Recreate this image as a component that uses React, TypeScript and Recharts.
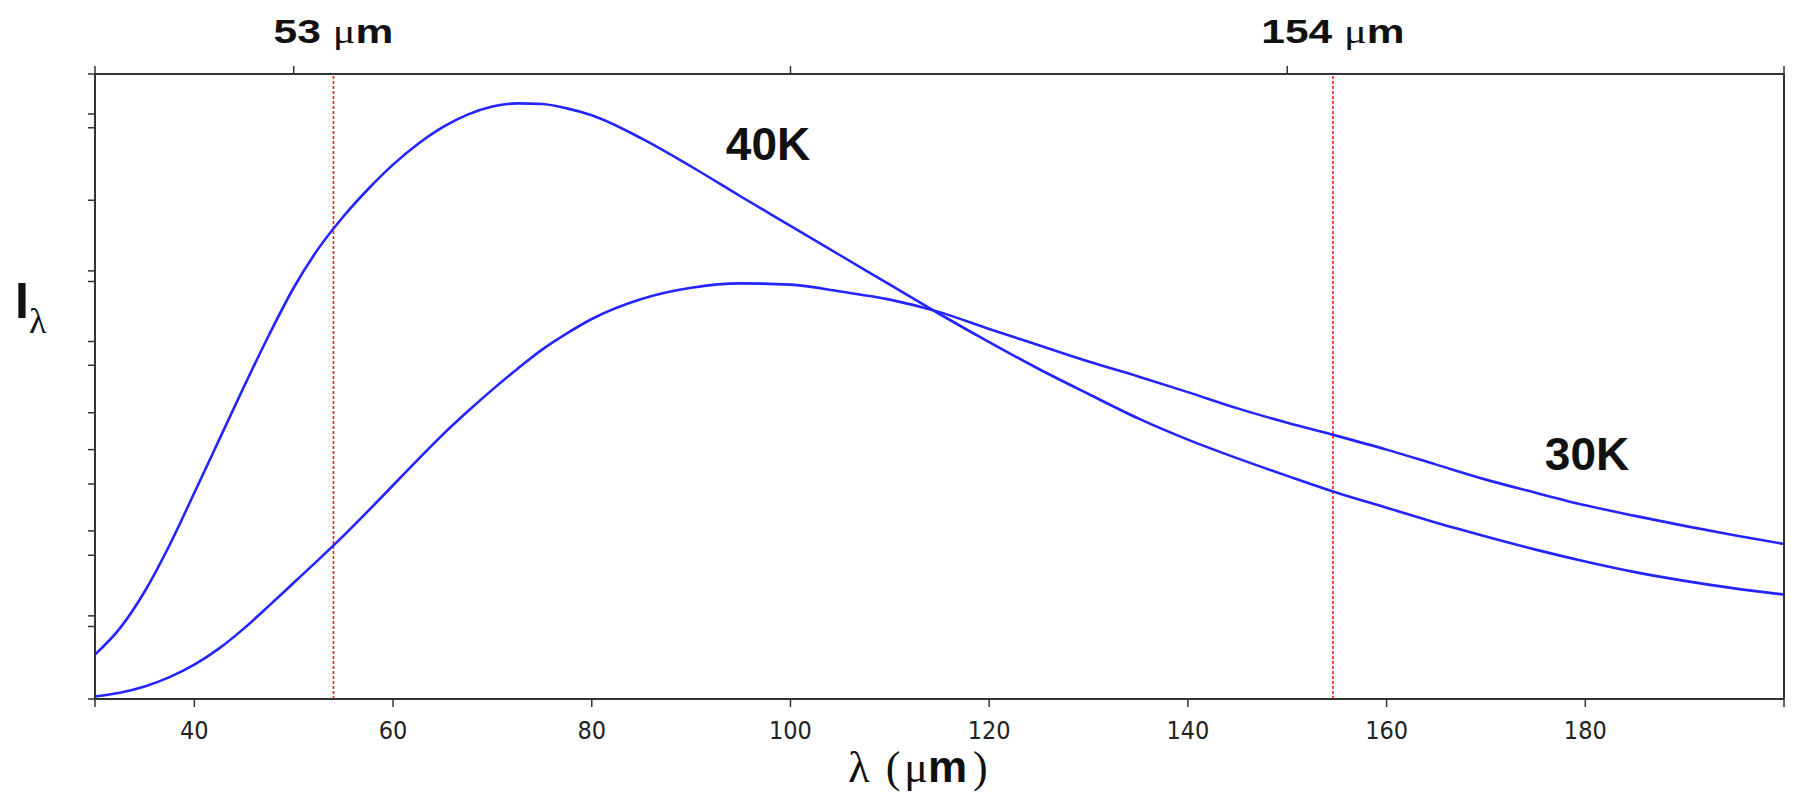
import { Customized, Line, LineChart, ReferenceLine, XAxis, YAxis } from "recharts"

// wavelength samples (μm) and intensities (arbitrary units, 0-100)
const lambda = [
  30, 32.5, 35, 37.5, 40, 42.5, 45, 47.5, 50, 52.5, 55, 57.5, 60, 62.5, 65, 67.5, 70, 72.5, 75, 77.5,
  80, 85, 90, 95, 100, 105, 110, 115, 120, 125, 130, 135, 140, 145, 150, 155, 160, 165, 170, 175,
  180, 185, 190, 195, 200,
]
const i40K = [
  7.1, 11.3, 17.2, 24.6, 33.0, 41.5, 50.0, 58.2, 65.8, 72.1, 77.2, 81.6, 85.5, 88.8, 91.5, 93.5, 94.8, 95.3, 95.2, 94.5,
  93.4, 89.7, 85.2, 80.4, 75.7, 71.0, 66.3, 61.6, 57.1, 52.8, 48.8, 44.9, 41.5, 38.5, 35.7, 33.0, 30.6, 28.2, 26.0, 23.9,
  22.0, 20.3, 18.9, 17.7, 16.7,
]
const i30K = [
  0.4, 1.0, 2.0, 3.5, 5.5, 8.1, 11.3, 14.9, 18.6, 22.3, 26.1, 30.1, 34.2, 38.3, 42.3, 46.0, 49.5, 52.8, 55.9, 58.5,
  60.8, 64.0, 65.8, 66.5, 66.3, 65.2, 63.9, 61.9, 59.2, 56.6, 54.0, 51.6, 49.1, 46.5, 44.2, 42.1, 39.9, 37.5, 35.1, 33.0,
  31.0, 29.3, 27.7, 26.2, 24.8,
]

const bottomTicks = [30, 40, 60, 80, 100, 120, 140, 160, 180, 200]
const topTicks = [30, 50, 100, 150, 200]
const sideTicks = [0, 11.6, 13.3, 23.0, 26.9, 34.4, 39.9, 45.8, 53.4, 57.2, 66.8, 68.5, 79.8, 91.4, 93.6, 100]

const markers = [54, 154.6]
const markerLabels = ["53", "154"]

const data = lambda.map((l, i) => ({ l, t40: i40K[i], t30: i30K[i] }))

const AXIS = "#333"
const BLUE = "#2424ff"
const SANS = "'Liberation Sans', Arial, sans-serif"
const SERIF = "'Liberation Serif', 'Times New Roman', serif"

const markerLabel = (text: string) => (props: any) => {
  const vb = props.viewBox || {}
  return (
    <text
      transform={`translate(${vb.x},${vb.y - 31}) scale(1.25,1)`}
      textAnchor="middle"
      fontFamily={SANS}
      fontWeight="bold"
      fontSize={34}
      fill="#111"
    >
      {text} <tspan fontFamily={SERIF} fontWeight="normal">μ</tspan>m
    </text>
  )
}

function Annotations() {
  return (
    <g>
      <text x={768} y={160} textAnchor="middle" fontFamily={SANS} fontWeight="bold" fontSize={46} fill="#111">40K</text>
      <text x={1587} y={470} textAnchor="middle" fontFamily={SANS} fontWeight="bold" fontSize={46} fill="#111">30K</text>
      <text x={15} y={318} fontFamily={SANS} fontWeight="bold" fontSize={50} fill="#111">I</text>
      <text x={29} y={333} fontFamily={SERIF} fontSize={36} fill="#111">λ</text>
      <text x={918} y={782} textAnchor="middle" fontFamily={SERIF} fontSize={44} fill="#111">
        λ<tspan dx={16}>(</tspan>
        <tspan dx={4}>μ</tspan>
        <tspan fontFamily={SANS} fontWeight="bold">m</tspan>
        <tspan dx={6}>)</tspan>
      </text>
    </g>
  )
}

export default function App() {
  const tickLine = { stroke: AXIS, strokeWidth: 1.5 }
  const axisLine = { stroke: AXIS, strokeWidth: 2 }
  return (
    <div style={{ position: "absolute", left: 0, top: 0, background: "#fff" }}>
      <LineChart width={1796} height={796} data={data} margin={{ top: 34, right: 0, bottom: 37, left: 35 }}>
        <XAxis
          xAxisId="b"
          dataKey="l"
          type="number"
          domain={[30, 200]}
          ticks={bottomTicks}
          orientation="bottom"
          height={60}
          tickSize={8}
          tickMargin={14}
          axisLine={axisLine}
          tickLine={tickLine}
          tick={{ fontSize: 25, fill: "#222", fontFamily: "'Liberation Sans Narrow', 'DejaVu Sans Condensed', Arial, sans-serif" }}
          tickFormatter={(v: number) => (v === 30 || v === 200 ? "" : String(v))}
        />
        <XAxis
          xAxisId="t"
          dataKey="l"
          type="number"
          domain={[30, 200]}
          ticks={topTicks}
          orientation="top"
          height={40}
          tickSize={8}
          axisLine={axisLine}
          tickLine={tickLine}
          tickFormatter={() => ""}
        />
        <YAxis
          yAxisId="l"
          type="number"
          domain={[0, 100]}
          ticks={sideTicks}
          width={60}
          tickSize={7}
          axisLine={axisLine}
          tickLine={tickLine}
          tickFormatter={() => ""}
        />
        <YAxis
          yAxisId="r"
          orientation="right"
          type="number"
          domain={[0, 100]}
          ticks={sideTicks}
          width={12}
          tickSize={7}
          axisLine={axisLine}
          tickLine={tickLine}
          tickFormatter={() => ""}
        />
        {markers.map((m, i) => (
          <ReferenceLine
            key={m}
            x={m}
            xAxisId="b"
            yAxisId="l"
            stroke="#ff1a1a"
            strokeWidth={1.6}
            strokeDasharray="3 2"
            label={markerLabel(markerLabels[i])}
          />
        ))}
        <Line xAxisId="b" yAxisId="l" type="monotone" dataKey="t40" stroke={BLUE} strokeWidth={2.6} dot={false} isAnimationActive={false} />
        <Line xAxisId="b" yAxisId="l" type="monotone" dataKey="t30" stroke={BLUE} strokeWidth={2.6} dot={false} isAnimationActive={false} />
        <Customized component={Annotations} />
      </LineChart>
    </div>
  )
}
